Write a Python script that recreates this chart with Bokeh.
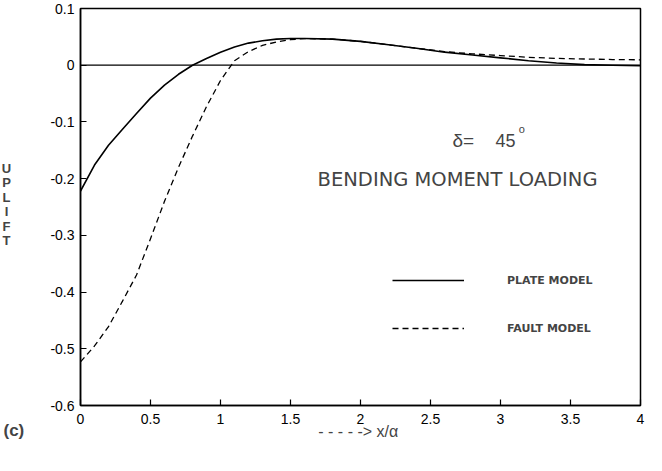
from bokeh.plotting import figure
from bokeh.models import Range1d, FixedTicker, Span, Label, Legend, LegendItem
from bokeh.embed import file_html
from bokeh.resources import INLINE

# ---- data ----
x_plate = [0.0, 0.1, 0.2, 0.3, 0.4, 0.5, 0.6, 0.7, 0.8, 0.9, 1.0, 1.1, 1.2, 1.3, 1.4,
           1.5, 1.6, 1.8, 2.0, 2.2, 2.4, 2.6, 2.8, 3.0, 3.2, 3.4, 3.6, 3.8, 4.0]
uplift_plate = [-0.222, -0.176, -0.141, -0.113, -0.085, -0.058, -0.035, -0.016, 0.0,
                0.012, 0.023, 0.032, 0.039, 0.043, 0.046, 0.047, 0.047, 0.046, 0.042,
                0.036, 0.030, 0.023, 0.018, 0.013, 0.008, 0.004, 0.001, 0.0, -0.001]

x_fault = [0.0, 0.1, 0.2, 0.3, 0.4, 0.5, 0.6, 0.7, 0.8, 0.9, 1.0, 1.1, 1.2, 1.3, 1.4,
           1.5, 1.6, 1.8, 2.0, 2.2, 2.4, 2.6, 2.8, 3.0, 3.2, 3.4, 3.6, 3.8, 4.0]
uplift_fault = [-0.523, -0.495, -0.461, -0.416, -0.370, -0.306, -0.240, -0.180, -0.125,
                -0.073, -0.027, 0.008, 0.024, 0.035, 0.041, 0.045, 0.047, 0.046, 0.042,
                0.036, 0.030, 0.024, 0.020, 0.017, 0.014, 0.012, 0.011, 0.010, 0.0095]

x_ticks = [0, 0.5, 1, 1.5, 2, 2.5, 3, 3.5, 4]
x_tick_labels = ["0", "0.5", "1", "1.5", "2", "2.5", "3", "3.5", "4"]
y_ticks = [0.1, 0, -0.1, -0.2, -0.3, -0.4, -0.5, -0.6]
y_tick_labels = ["0.1", "0", "-0.1", "-0.2", "-0.3", "-0.4", "-0.5", "-0.6"]

series_names = ["PLATE MODEL", "FAULT MODEL"]
y_title = "UPLIFT"
x_title = "- - - - ->  x/\u03b1"
panel_tag = "(c)"

FONT = "Liberation Sans"

p = figure(width=646, height=455, output_backend="svg", toolbar_location=None,
           x_range=Range1d(0, 4), y_range=Range1d(-0.6, 0.1),
           min_border_left=80, min_border_right=6, min_border_top=8,
           min_border_bottom=50)

p.xgrid.visible = False
p.ygrid.visible = False
p.outline_line_color = "black"
p.outline_line_width = 1.5
p.background_fill_color = "white"

for ax in (p.xaxis[0], p.yaxis[0]):
    ax.axis_line_width = 1.5
    ax.axis_line_color = "black"
    ax.major_tick_in = 6
    ax.major_tick_out = 0
    ax.major_tick_line_width = 1.2
    ax.minor_tick_line_color = None
    ax.major_label_text_font = FONT
    ax.major_label_text_font_size = "14px"
    ax.major_label_text_color = "black"

p.xaxis.ticker = FixedTicker(ticks=x_ticks)
p.xaxis.major_label_overrides = {t: l for t, l in zip(x_ticks, x_tick_labels)}
p.xaxis.major_label_standoff = 8
p.xaxis.axis_label = x_title
p.xaxis.axis_label_text_font = FONT
p.xaxis.axis_label_text_font_style = "normal"
p.xaxis.axis_label_text_font_size = "16px"
p.xaxis.axis_label_standoff = -4

p.yaxis.ticker = FixedTicker(ticks=y_ticks)
p.yaxis.major_label_overrides = {t: l for t, l in zip(y_ticks, y_tick_labels)}
p.yaxis.major_label_standoff = 6

p.add_layout(Span(location=0, dimension="width", line_color="black", line_width=1.2))

r_plate = p.line(x_plate, uplift_plate, line_color="black", line_width=1.6)
r_fault = p.line(x_fault, uplift_fault, line_color="black", line_width=1.3,
                 line_dash="6 4")

legend = Legend(items=[LegendItem(label=series_names[0], renderers=[r_plate]),
                       LegendItem(label=series_names[1], renderers=[r_fault])],
                location=(312, 70), padding=0, margin=0, spacing=34,
                glyph_width=72, glyph_height=14, label_height=14,
                label_standoff=43, border_line_alpha=0, background_fill_alpha=0,
                label_text_font="DejaVu Sans", label_text_font_style="bold",
                label_text_font_size="11px")
p.add_layout(legend)

p.add_layout(Label(x=2.657, y=-0.1327, text="\u03b4=", text_font=FONT,
                   text_font_size="19px", text_baseline="middle", text_align="left"))
p.add_layout(Label(x=2.964, y=-0.1327, text="45", text_font=FONT,
                   text_font_size="18px", text_baseline="middle", text_align="left"))
p.add_layout(Label(x=3.13, y=-0.1116, text="o", text_font=FONT,
                   text_font_size="11px", text_baseline="middle", text_align="left"))
p.add_layout(Label(x=3.693, y=-0.2015, text="BENDING MOMENT LOADING",
                   text_font="DejaVu Sans", text_font_size="19.5px",
                   text_baseline="middle", text_align="right"))

# texts outside the frame go into the left side panel (side-panel annotations are not clipped)
uplift_lbl = Label(x=6, y=204, x_units="canvas", y_units="canvas",
                   text="\n".join(y_title), text_font=FONT, text_font_size="13px",
                   text_font_style="bold", text_line_height=0.97,
                   text_baseline="middle", text_align="center")
tag = Label(x=3, y=430, x_units="canvas", y_units="canvas", text=panel_tag,
            text_font=FONT, text_font_size="17px", text_font_style="bold",
            text_baseline="middle", text_align="left")
p.add_layout(uplift_lbl, "left")
p.add_layout(tag, "left")

open("out.html", "w").write(file_html(p, INLINE))
